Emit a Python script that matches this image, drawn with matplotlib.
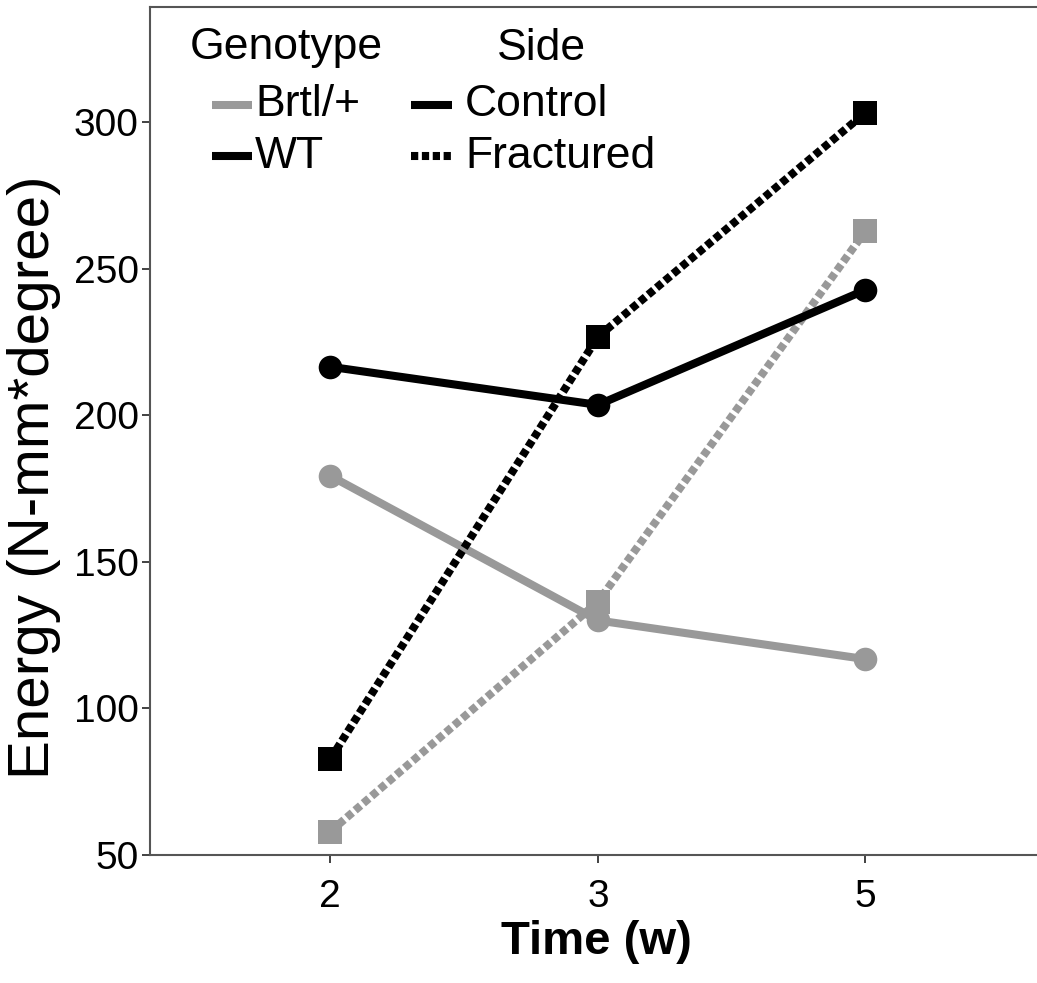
import matplotlib
matplotlib.use("Agg")
import matplotlib.pyplot as plt
from matplotlib.lines import Line2D

# Time points (weeks) shown as evenly spaced categories
weeks = ["2", "3", "5"]

# Mean energy to failure (N-mm*degree)
wt_control = [216.5, 203.5, 242.7]
wt_fractured = [82.7, 226.7, 303.2]
brtl_control = [179.3, 130.0, 116.8]
brtl_fractured = [58.0, 136.3, 262.8]

BLACK = "#000000"
GRAY = "#999999"
FONT = ["Liberation Sans", "Arial", "DejaVu Sans"]

plt.rcParams["font.family"] = FONT

W, H = 1037, 983
fig = plt.figure(figsize=(W / 100, H / 100), dpi=100)
ax = fig.add_axes([150 / W, 1 - 855 / H, 892 / W, 848 / H])

x = list(range(len(weeks)))
lw = 5.8
ms = 17
dotted = (0, (0.9, 0.45))

series = [
    (brtl_fractured, GRAY, dotted, "s"),
    (brtl_control, GRAY, "-", "o"),
    (wt_fractured, BLACK, dotted, "s"),
    (wt_control, BLACK, "-", "o"),
]
for vals, col, ls, mk in series:
    ax.plot(x, vals, color=col, lw=lw, linestyle=ls, dash_capstyle="butt",
            marker=mk, markersize=ms, markeredgewidth=0, zorder=3)

ax.set_xlim(-0.674, 2.66)
ax.set_ylim(50, 339.2)
ax.set_xticks(x)
ax.set_xticklabels(weeks)
ax.set_yticks([50, 100, 150, 200, 250, 300])

ax.spines["right"].set_visible(False)
for side in ("left", "bottom", "top"):
    ax.spines[side].set_color("#555555")
    ax.spines[side].set_linewidth(1.5)

ax.tick_params(axis="both", length=6, width=1.3, color="#333333",
               labelsize=28, pad=2)
ax.tick_params(axis="x", pad=11)

ax.set_xlabel("Time (w)", fontsize=34, fontweight="bold", va="center")
ax.xaxis.set_label_coords(0.501, (855 - 942) / 848)
ax.set_ylabel("Energy (N-mm*degree)", fontsize=42, va="center")
ax.yaxis.set_label_coords((34 - 150) / 892, (855 - 477) / 848)


# Legend drawn in pixel-like axes coordinates
def px(xp, yp):
    return ((xp - 150) / 892, (855 - yp) / 848)


leg_fs = 32
ax.text(*px(190, 48), "Genotype", transform=ax.transAxes, fontsize=leg_fs,
        va="center", ha="left")
ax.text(*px(497, 48), "Side", transform=ax.transAxes, fontsize=leg_fs,
        va="center", ha="left")

legend_rows = [
    (105, "Brtl/+", GRAY, "-", "Control", "-"),
    (156, "WT", BLACK, "-", "Fractured", dotted),
]
for yp, glab, gcol, gls, slab, sls in legend_rows:
    x0, y0 = px(212, yp)
    x1, _ = px(252, yp)
    ax.add_line(Line2D([x0, x1], [y0, y0], transform=ax.transAxes, color=gcol,
                       lw=lw, linestyle=gls, solid_capstyle="butt"))
    ax.text(*px(255, yp), glab, transform=ax.transAxes, fontsize=leg_fs,
            va="center", ha="left")
    x0, y0 = px(411, yp)
    x1, _ = px(452, yp)
    ax.add_line(Line2D([x0, x1], [y0, y0], transform=ax.transAxes, color=BLACK,
                       lw=lw, linestyle=sls, dash_capstyle="butt",
                       solid_capstyle="butt"))
    ax.text(*px(465, yp), slab, transform=ax.transAxes, fontsize=leg_fs,
            va="center", ha="left")

fig.savefig("out.png", dpi=100, facecolor="white")
